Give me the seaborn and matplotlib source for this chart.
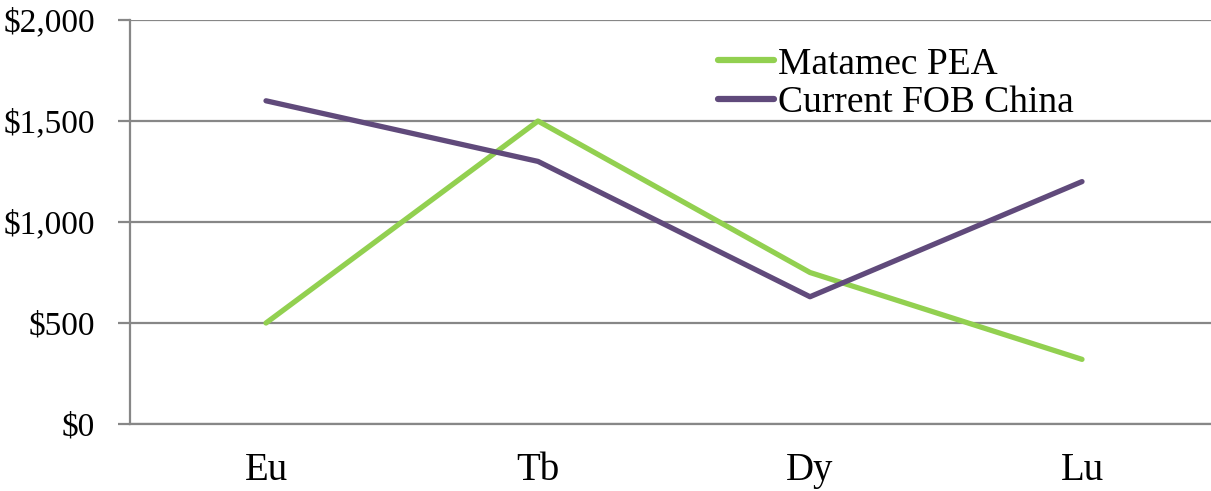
import numpy as np
import pandas as pd
import matplotlib
matplotlib.use("Agg")
import matplotlib.pyplot as plt
import seaborn as sns
from matplotlib.ticker import FuncFormatter, FixedLocator

# ── Data ──────────────────────────────────────────────────────────────────────
elements = ["Eu", "Tb", "Dy", "Lu"]
matamec_pea = [500, 1500, 750, 320]
current_fob_china = [1600, 1300, 630, 1200]
series_names = ["Matamec PEA", "Current FOB China"]
y_ticks = [0, 500, 1000, 1500, 2000]

df = pd.DataFrame({
    "element": elements * 2,
    "pos": list(range(len(elements))) * 2,
    "price": matamec_pea + current_fob_china,
    "series": [series_names[0]] * 4 + [series_names[1]] * 4,
})

sns.set_style("white")
plt.rcParams["font.family"] = ["Liberation Serif", "DejaVu Serif"]
plt.rcParams["text.color"] = "black"
plt.rcParams["xtick.labelcolor"] = "black"
plt.rcParams["ytick.labelcolor"] = "black"

GRID = "#878787"
fig = plt.figure(figsize=(12.11, 4.91), dpi=100)
ax = fig.add_axes([130 / 1211, 67 / 491, 1088 / 1211, 404 / 491])

sns.lineplot(data=df, x="pos", y="price", hue="series", ax=ax,
             palette=["#92D050", "#604A7B"], linewidth=3.8,
             hue_order=series_names, legend=True)

ax.set_xlim(-0.5, 3.5)
ax.set_ylim(0, 2000)
ax.yaxis.set_major_locator(FixedLocator(y_ticks))
ax.yaxis.set_major_formatter(FuncFormatter(lambda v, p: f"${v:,.0f}"))
ax.grid(axis="y", color=GRID, linewidth=1.6)
ax.set_axisbelow(True)

ax.set_xticks(range(len(elements)))
ax.set_xticklabels(elements, fontsize=28)
ax.set_xticks(np.arange(-0.5, 4.0, 1.0), minor=True)
ax.tick_params(axis="x", which="major", length=0, pad=20)
ax.tick_params(axis="x", which="minor", length=9, width=1.6, color=GRID, direction="out")
ax.tick_params(axis="y", length=9, width=1.6, color=GRID, direction="out",
               labelsize=24, pad=16, left=True)

for side in ["top", "right"]:
    ax.spines[side].set_visible(False)
for side in ["left", "bottom"]:
    ax.spines[side].set_color(GRID)
    ax.spines[side].set_linewidth(1.6)

ax.set_xlabel("")
ax.set_ylabel("")

leg = ax.legend(loc="upper left", bbox_to_anchor=(718 / 1211, 444 / 491),
                bbox_transform=fig.transFigure, frameon=False, fontsize=27,
                handlelength=1.5, handletextpad=0.1, labelspacing=0.12,
                borderaxespad=0, borderpad=0)
for line in leg.get_lines():
    line.set_linewidth(4.5)

fig.savefig("out.png", dpi=100)
